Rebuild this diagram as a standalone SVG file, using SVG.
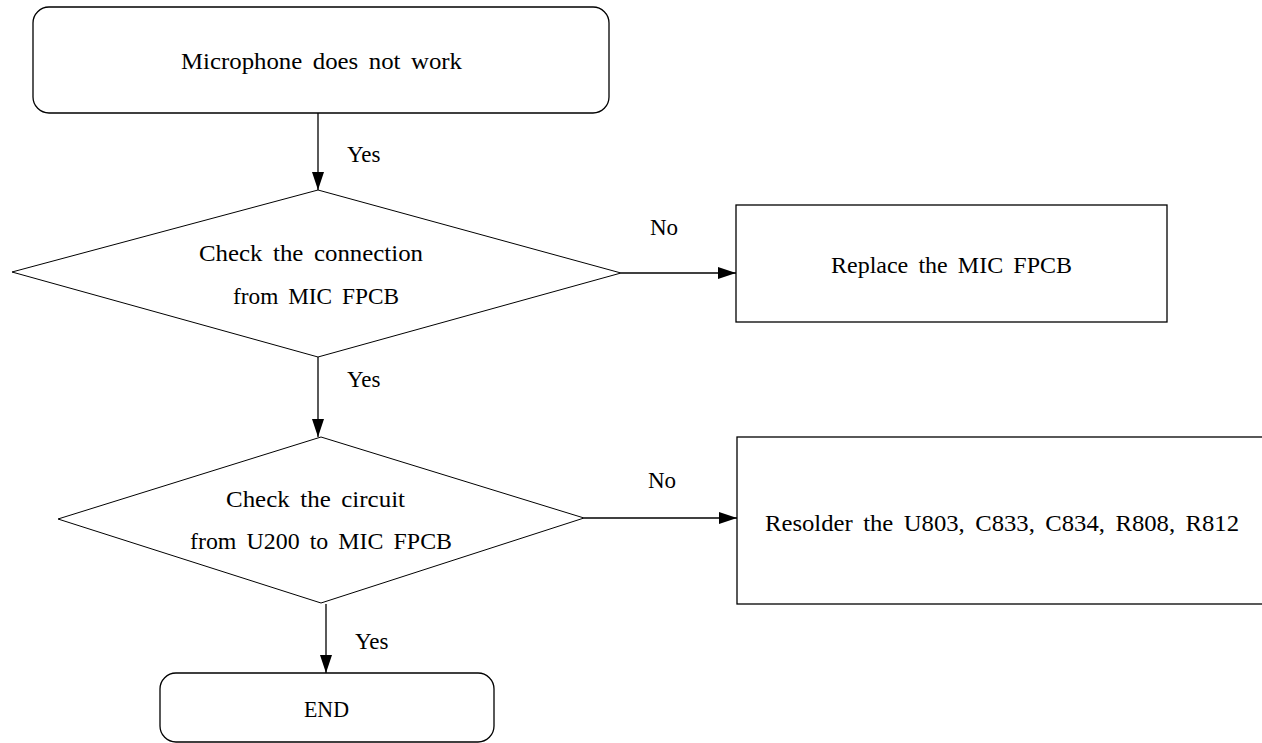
<svg xmlns="http://www.w3.org/2000/svg" width="1262" height="743" viewBox="0 0 1262 743">
<style>
.box{fill:#fff;stroke:#000;stroke-width:1.3}
.dia{fill:#fff;stroke:#000;stroke-width:1}
.con{fill:none;stroke:#000;stroke-width:1.3}
text{font-family:"Liberation Serif","DejaVu Serif",serif;font-size:23px;fill:#000;word-spacing:4px}
.c{text-anchor:middle}
</style>
<defs>
<marker id="ah" viewBox="0 0 18 12" refX="18" refY="6" markerWidth="18" markerHeight="12" markerUnits="userSpaceOnUse" orient="auto">
<path d="M0,0 L18,6 L0,12 Z" fill="#000"/>
</marker>
</defs>
<rect width="1262" height="743" fill="#fff"/>
<g id="start">
<rect class="box" x="33" y="7" width="576" height="106" rx="16"/>
<text x="181" y="69" textLength="281" lengthAdjust="spacingAndGlyphs">Microphone does not work</text>
</g>
<g id="check1">
<polygon class="dia" points="12,272 318,190 621,273 318,357"/>
<text x="199" y="261" textLength="224" lengthAdjust="spacingAndGlyphs">Check the connection</text>
<text x="233" y="304" textLength="166" lengthAdjust="spacingAndGlyphs">from MIC FPCB</text>
</g>
<g id="replace">
<rect class="box" x="736" y="205" width="431" height="117"/>
<text x="831" y="273" textLength="241" lengthAdjust="spacingAndGlyphs">Replace the MIC FPCB</text>
</g>
<g id="check2">
<polygon class="dia" points="58,519 321,437 584,518 321,603"/>
<text x="226" y="507" textLength="179" lengthAdjust="spacingAndGlyphs">Check the circuit</text>
<text x="190" y="549" textLength="262" lengthAdjust="spacingAndGlyphs">from U200 to MIC FPCB</text>
</g>
<g id="resolder">
<rect class="box" x="737" y="437" width="600" height="167"/>
<text x="765" y="531" textLength="474" lengthAdjust="spacingAndGlyphs">Resolder the U803, C833, C834, R808, R812</text>
</g>
<g id="end">
<rect class="box" x="160" y="673" width="334" height="69" rx="16"/>
<text x="304" y="717" textLength="45" lengthAdjust="spacingAndGlyphs">END</text>
</g>
<g id="connectors">
<line class="con" x1="318" y1="113" x2="318" y2="190" marker-end="url(#ah)"/>
<line class="con" x1="621" y1="273" x2="736" y2="273" marker-end="url(#ah)"/>
<line class="con" x1="318" y1="357" x2="318" y2="437" marker-end="url(#ah)"/>
<line class="con" x1="584" y1="518" x2="737" y2="518" marker-end="url(#ah)"/>
<line class="con" x1="326" y1="604" x2="326" y2="673" marker-end="url(#ah)"/>
<text x="347" y="162">Yes</text>
<text x="650" y="235">No</text>
<text x="347" y="387">Yes</text>
<text x="648" y="488">No</text>
<text x="355" y="649">Yes</text>
</g>
</svg>
